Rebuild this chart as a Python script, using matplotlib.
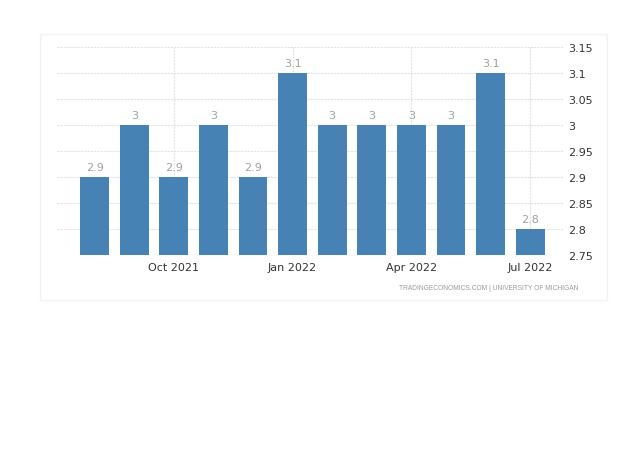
import matplotlib.pyplot as plt
from matplotlib.patches import Rectangle

months = ["Aug 2021", "Sep 2021", "Oct 2021", "Nov 2021", "Dec 2021", "Jan 2022",
          "Feb 2022", "Mar 2022", "Apr 2022", "May 2022", "Jun 2022", "Jul 2022"]
values = [2.9, 3.0, 2.9, 3.0, 2.9, 3.1, 3.0, 3.0, 3.0, 3.0, 3.1, 2.8]
value_labels = ["2.9", "3", "2.9", "3", "2.9", "3.1", "3", "3", "3", "3", "3.1", "2.8"]
tick_months = ["Oct 2021", "Jan 2022", "Apr 2022", "Jul 2022"]
y_ticks = [2.75, 2.8, 2.85, 2.9, 2.95, 3.0, 3.05, 3.1, 3.15]
y_tick_labels = ["2.75", "2.8", "2.85", "2.9", "2.95", "3", "3.05", "3.1", "3.15"]
source = "TRADINGECONOMICS.COM | UNIVERSITY OF MICHIGAN"

bar_color = "#4682b4"
grid_color = "#e2e2e2"

fig = plt.figure(figsize=(6.4, 4.52), dpi=100)

# faint outer frame
fig.patches.append(Rectangle((40 / 640, 1 - 301 / 452), 567 / 640, 266 / 452,
                             transform=fig.transFigure, fill=False,
                             edgecolor="#f2f2f2", linewidth=1))

ax = fig.add_axes([57 / 640, 1 - 256 / 452, 506 / 640, 208 / 452])

x = list(range(len(months)))
ax.bar(x, [v - 2.75 for v in values], bottom=2.75, width=0.73,
       color=bar_color, zorder=3)

for xi, v, lab in zip(x, values, value_labels):
    ax.text(xi, v + 0.01, lab, ha="center", va="bottom", fontsize=8,
            color="#a0a0a0", zorder=4)

ax.set_xlim(-0.95, 11.83)
ax.set_ylim(2.75, 3.15)

tick_pos = [months.index(m) for m in tick_months]
ax.set_xticks(tick_pos)
ax.set_xticklabels(tick_months, fontsize=8, color="#333333")
ax.set_yticks(y_ticks)
ax.set_yticklabels(y_tick_labels, fontsize=8, color="#333333")
ax.yaxis.tick_right()
ax.tick_params(axis="both", length=0)
ax.tick_params(axis="y", pad=4)
ax.tick_params(axis="x", pad=5)

ax.grid(True, color=grid_color, linestyle=(0, (2, 1)), linewidth=0.8, zorder=0)
for s in ax.spines.values():
    s.set_visible(False)

fig.text(578 / 640, 1 - 289 / 452, source, ha="right", va="center",
         fontsize=4.8, color="#999999", family="Liberation Sans")

fig.savefig("out.png", dpi=100)
